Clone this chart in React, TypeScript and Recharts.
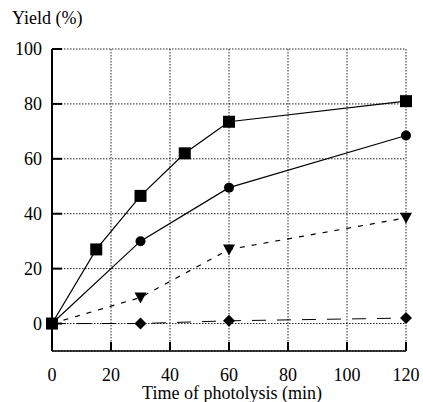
import { CartesianGrid, Line, LineChart, XAxis, YAxis } from "recharts";

const squareTimes = [0, 15, 30, 45, 60, 120];
const squareYield = [0, 27, 46.5, 62, 73.5, 81];
const circleTimes = [0, 30, 60, 120];
const circleYield = [0, 30, 49.5, 68.5];
const triangleTimes = [0, 30, 60, 120];
const triangleYield = [0, 9.5, 27, 38.5];
const diamondTimes = [0, 30, 60, 120];
const diamondYield = [0, 0, 1, 2];

const xTicks = [0, 20, 40, 60, 80, 100, 120];
const yTicks = [0, 20, 40, 60, 80, 100];

const FONT = "'Liberation Serif', serif";

const toRows = (t: number[], v: number[]) => t.map((x, i) => ({ x, y: v[i] }));

const Square = (p: any) =>
  p.cx == null ? null : (
    <rect key={p.index} x={p.cx - 6} y={p.cy - 6} width={12} height={12} fill="#000" />
  );
const Circle = (p: any) =>
  p.cx == null ? null : <circle key={p.index} cx={p.cx} cy={p.cy} r={5} fill="#000" />;
const Triangle = (p: any) =>
  p.cx == null ? null : (
    <path
      key={p.index}
      d={`M${p.cx - 6},${p.cy - 5} L${p.cx + 6},${p.cy - 5} L${p.cx},${p.cy + 6} Z`}
      fill="#000"
    />
  );
const Diamond = (p: any) =>
  p.cx == null ? null : (
    <path
      key={p.index}
      d={`M${p.cx},${p.cy - 6} L${p.cx + 6},${p.cy} L${p.cx},${p.cy + 6} L${p.cx - 6},${p.cy} Z`}
      fill="#000"
    />
  );

// ticks point into the plot, labels sit outside (p.x / p.y are offset 8px from the axis)
const YTick = (p: any) => (
  <g>
    <line x1={p.x + 8} x2={p.x + 18} y1={p.y} y2={p.y} stroke="#000" strokeWidth={2} />
    <text x={p.x - 2} y={p.y + 6} textAnchor="end" fontFamily={FONT} fontSize={18} fill="#000">
      {p.payload.value}
    </text>
  </g>
);
const XTick = (p: any) => (
  <g>
    <line x1={p.x} x2={p.x} y1={p.y - 8} y2={p.y - 17} stroke="#000" strokeWidth={2} />
    <text x={p.x} y={p.y + 22} textAnchor="middle" fontFamily={FONT} fontSize={18} fill="#000">
      {p.payload.value}
    </text>
  </g>
);

export default function App() {
  return (
    <div
      style={{
        position: "absolute",
        left: 0,
        top: 0,
        width: 423,
        height: 402,
        background: "#fff",
        fontFamily: FONT,
        fontSize: 18,
      }}
    >
      <div style={{ position: "absolute", left: 12, top: 8, lineHeight: "20px" }}>Yield (%)</div>
      <div style={{ position: "absolute", left: 0, width: 464, top: 384, textAlign: "center", lineHeight: "18px" }}>
        Time of photolysis (min)
      </div>
      <LineChart width={423} height={402} margin={{ top: 49, right: 17, bottom: 0, left: 0 }}>
        <CartesianGrid stroke="#222" strokeDasharray="1.5 1.5" />
        <XAxis
          type="number"
          dataKey="x"
          domain={[0, 120]}
          ticks={xTicks}
          height={51}
          axisLine={{ stroke: "#000", strokeWidth: 1.5 }}
          tickLine={false}
          tick={<XTick />}
          allowDuplicatedCategory={false}
        />
        <XAxis xAxisId="top" orientation="top" type="number" domain={[0, 120]} height={0} tick={false} tickLine={false} axisLine={{ stroke: "#000", strokeWidth: 1.5 }} />
        <YAxis
          type="number"
          domain={[-10, 100]}
          ticks={yTicks}
          width={52}
          axisLine={{ stroke: "#000", strokeWidth: 2 }}
          tickLine={false}
          tick={<YTick />}
        />
        <YAxis yAxisId="right" orientation="right" domain={[-10, 100]} width={0} tick={false} tickLine={false} axisLine={{ stroke: "#000", strokeWidth: 1.5 }} />
        <Line data={toRows(diamondTimes, diamondYield)} dataKey="y" stroke="#000" strokeWidth={1} strokeDasharray="14 11" dot={<Diamond />} isAnimationActive={false} />
        <Line data={toRows(triangleTimes, triangleYield)} dataKey="y" stroke="#000" strokeWidth={1.2} strokeDasharray="5 7" dot={<Triangle />} isAnimationActive={false} />
        <Line data={toRows(circleTimes, circleYield)} dataKey="y" stroke="#000" strokeWidth={1.2} dot={<Circle />} isAnimationActive={false} />
        <Line data={toRows(squareTimes, squareYield)} dataKey="y" stroke="#000" strokeWidth={1.2} dot={<Square />} isAnimationActive={false} />
      </LineChart>
    </div>
  );
}
